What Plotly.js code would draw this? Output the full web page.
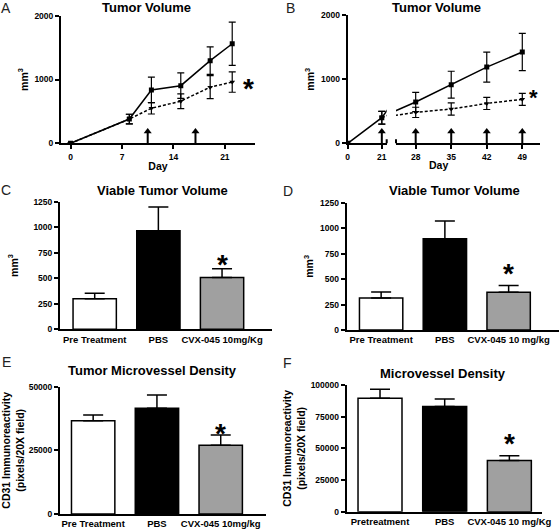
<!DOCTYPE html>
<html><head><meta charset="utf-8">
<script src="https://cdn.plot.ly/plotly-3.0.1.min.js"></script>
<style>html,body{margin:0;padding:0;background:#fff}#chart{width:560px;height:529px}</style>
</head><body><div id="chart"></div>
<script>
// ---------- Panel A : Tumor Volume ----------
const daysA = [0, 8, 11, 15, 19, 22];
const pbsA = [0, 380, 836, 903, 1295, 1560];
const pbsAerr = [0, 75, 200, 200, 215, 340];
const cvxA = [0, 380, 549, 660, 880, 960];
const cvxAerr = [0, 75, 90, 115, 180, 160];
const doseDaysA = [10.5, 17];
const ticksA = [0, 7, 14, 21];
// ---------- Panel B : Tumor Volume ----------
const daysB = [0, 21, 28, 35, 42, 49];
const pbsB = [0, 400, 645, 915, 1190, 1425];
const pbsBerr = [0, 100, 150, 210, 235, 290];
const daysBcvx = [21, 28, 35, 42, 49];
const cvxB = [400, 483, 535, 623, 686];
const cvxBerr = [100, 80, 95, 95, 95];
const doseDaysB1 = [21];
const doseDaysB2 = [28, 35, 42, 49];
const ticksB1 = [0, 21];
const ticksB2 = [28, 35, 42, 49];
// ---------- Panel C ----------
const groupsC = ['Pre Treatment', 'PBS', 'CVX-045 10mg/Kg'];
const valC = [300, 965, 508];
const errC = [52, 233, 84];
// ---------- Panel D ----------
const groupsD = ['Pre Treatment', 'PBS', 'CVX-045 10 mg/kg'];
const valD = [315, 895, 370];
const errD = [57, 175, 68];
// ---------- Panel E ----------
const groupsE = ['Pre Treatment', 'PBS', 'CVX-045 10mg/kg'];
const valE = [36600, 41500, 27000];
const errE = [2300, 5200, 4000];
// ---------- Panel F ----------
const groupsF = ['Pretreatment', 'PBS', 'CVX-045 10 mg/Kg'];
const valF = [89500, 83000, 40500];
const errF = [7100, 6000, 3700];

const barColors = ['#ffffff', '#000000', '#a0a0a0'];
const FAM = 'Liberation Sans, Arial, Helvetica, sans-serif';
const W = 560, H = 529;
const px = v => v / W;
const py = v => 1 - v / H;
const arrowTip = 225;

function lineTrace(x, y, err, xa, ya, dashed) {
  return {
    type: 'scatter', mode: 'lines+markers', x: x, y: y, xaxis: xa, yaxis: ya,
    line: {color: '#000', width: 1.5, dash: dashed ? '3px,2px' : 'solid'},
    marker: {color: '#000', size: 5, symbol: dashed ? 'triangle-down' : 'square'},
    error_y: {type: 'data', array: err, visible: true, color: '#000', thickness: 1.2, width: 3.5},
    showlegend: false, hoverinfo: 'skip'
  };
}
function arrowTraces(days, xa, ya) {
  const xs = [], ys = [];
  days.forEach(d => { xs.push(d, d, null); ys.push(0, arrowTip - 40, null); });
  return [
    {type: 'scatter', mode: 'lines', x: xs, y: ys, xaxis: xa, yaxis: ya,
     line: {color: '#000', width: 2}, showlegend: false, hoverinfo: 'skip'},
    {type: 'scatter', mode: 'markers', x: days, y: days.map(() => arrowTip - 40), xaxis: xa, yaxis: ya,
     marker: {symbol: 'triangle-up', size: 7, color: '#000'}, showlegend: false, hoverinfo: 'skip'}
  ];
}
function barTrace(cats, vals, errs, xa, ya) {
  return {
    type: 'bar', x: cats, y: vals, xaxis: xa, yaxis: ya, width: 0.68,
    marker: {color: barColors, line: {color: '#000', width: 1.5}},
    error_y: {type: 'data', symmetric: false, array: errs, arrayminus: errs.map(() => 0),
              visible: true, color: '#000', thickness: 1.5, width: 10},
    showlegend: false, hoverinfo: 'skip'
  };
}

const traces = [].concat(
  arrowTraces(doseDaysA, 'x', 'y'),
  arrowTraces(doseDaysB1, 'x2', 'y2'),
  arrowTraces(doseDaysB2, 'x3', 'y2'),
  [
    lineTrace(daysA, cvxA, cvxAerr, 'x', 'y', true),
    lineTrace(daysA, pbsA, pbsAerr, 'x', 'y', false),
    lineTrace(daysBcvx, cvxB, cvxBerr, 'x2', 'y2', true),
    lineTrace(daysB, pbsB, pbsBerr, 'x2', 'y2', false),
    lineTrace(daysBcvx, cvxB, cvxBerr, 'x3', 'y2', true),
    lineTrace(daysB, pbsB, pbsBerr, 'x3', 'y2', false),
    barTrace(groupsC, valC, errC, 'x4', 'y3'),
    barTrace(groupsD, valD, errD, 'x5', 'y4'),
    barTrace(groupsE, valE, errE, 'x6', 'y5'),
    barTrace(groupsF, valF, errF, 'x7', 'y6')
  ]
);

const tickF = {family: FAM, size: 8.5, color: '#000', weight: 'bold'};
const catF = {family: FAM, size: 9.5, color: '#000', weight: 'bold'};
const ttlF = {family: FAM, size: 10.5, color: '#000', weight: 'bold'};

function xax(domain, range, extra) {
  return Object.assign({domain: domain, range: range, showline: true, linewidth: 2, linecolor: '#000',
    showgrid: false, zeroline: false, ticks: 'outside', ticklen: 4, tickwidth: 2, tickcolor: '#000',
    tickfont: tickF, fixedrange: true}, extra);
}
function yax(domain, range, tickvals, extra) {
  return Object.assign({domain: domain, range: range, tickvals: tickvals, tickformat: 'd',
    showline: true, linewidth: 2, linecolor: '#000', showgrid: false, zeroline: false,
    ticks: 'outside', ticklen: 4, tickwidth: 2, tickcolor: '#000', tickfont: tickF, fixedrange: true}, extra);
}
function catax(domain, range, anchor) {
  return {domain: domain, range: range, anchor: anchor, type: 'category', showline: true, linewidth: 2,
    linecolor: '#000', showgrid: false, zeroline: false, ticks: '', tickfont: catF, fixedrange: true};
}

const layout = {
  width: W, height: H, margin: {l: 0, r: 0, t: 0, b: 0},
  paper_bgcolor: '#fff', plot_bgcolor: 'rgba(0,0,0,0)', showlegend: false,
  font: {family: FAM, color: '#000'},
  // A
  xaxis: xax([px(61), px(255)], [-1.3, 25.1], {anchor: 'y', tickvals: ticksA,
    title: {text: 'Day', font: ttlF, standoff: 2}}),
  yaxis: yax([py(143.3), py(15.7)], [0, 2000], [0, 1000, 2000], {anchor: 'x',
    title: {text: 'mm<sup>3</sup>', font: ttlF, standoff: 4}}),
  // B (broken x axis)
  xaxis2: xax([px(347.7), px(386.7)], [0, 24], {anchor: 'y2', tickvals: ticksB1}),
  xaxis3: xax([px(396), px(540)], [24.12, 52.49], {anchor: 'y2', tickvals: ticksB2}),
  yaxis2: yax([py(143.3), py(15.2)], [0, 2000], [0, 1000, 2000], {anchor: 'x2',
    title: {text: 'mm<sup>3</sup>', font: ttlF, standoff: 4}}),
  // C
  xaxis4: catax([px(60), px(271.7)], [-0.545, 2.78], 'y3'),
  yaxis3: yax([py(329.3), py(201.7)], [0, 1250], [0, 250, 500, 750, 1000, 1250], {anchor: 'x4',
    title: {text: 'mm<sup>3</sup>', font: ttlF, standoff: 13}}),
  // D
  xaxis5: catax([px(346.7), px(559)], [-0.54, 2.79], 'y4'),
  yaxis4: yax([py(330), py(202.7)], [0, 1250], [0, 250, 500, 750, 1000, 1250], {anchor: 'x5',
    title: {text: 'mm<sup>3</sup>', font: ttlF, standoff: 4}}),
  // E
  xaxis6: catax([px(60), px(266)], [-0.52, 2.71], 'y5'),
  yaxis5: yax([py(514), py(386.7)], [0, 50000], [0, 25000, 50000], {anchor: 'x6',
    title: {text: 'CD31 Immunoreactivity<br>(pixels/20X field)', font: ttlF, standoff: 4}}),
  // F
  xaxis7: catax([px(346.7), px(541.7)], [-0.515, 2.5], 'y6'),
  yaxis6: yax([py(511.7), py(385)], [0, 100000], [0, 25000, 50000, 75000, 100000], {anchor: 'x7',
    title: {text: 'CD31 Immunoreactivity<br>(pixels/20X field)', font: ttlF, standoff: 3}}),
  shapes: [
    {type: 'line', xref: 'x2 domain', x0: 1, x1: 1, yref: 'y2', ysizemode: 'pixel', yanchor: 0,
     y0: -4, y1: 4, line: {color: '#000', width: 2}},
    {type: 'line', xref: 'x3 domain', x0: 0, x1: 0, yref: 'y2', ysizemode: 'pixel', yanchor: 0,
     y0: -4, y1: 4, line: {color: '#000', width: 2}}
  ],
  annotations: []
};

const ann = layout.annotations;
// panel titles
const panelTitles = [
  ['Tumor Volume', 146.7, 7], ['Tumor Volume', 436.7, 7],
  ['Viable Tumor Volume', 162, 190], ['Viable Tumor Volume', 454, 190],
  ['Tumor Microvessel Density', 152, 370], ['Microvessel Density', 443, 373]
];
panelTitles.forEach(t => ann.push({xref: 'paper', yref: 'paper', x: px(t[1]), y: py(t[2]),
  xanchor: 'center', yanchor: 'middle', showarrow: false, text: t[0],
  font: {family: FAM, size: 13, color: '#000', weight: 'bold'}}));
// panel letters
const letters = [['A', 6, 8], ['B', 290, 8], ['C', 6, 190], ['D', 288, 191], ['E', 6, 362], ['F', 287, 363]];
letters.forEach(l => ann.push({xref: 'paper', yref: 'paper', x: px(l[1]), y: py(l[2]),
  xanchor: 'center', yanchor: 'middle', showarrow: false, text: l[0],
  font: {family: FAM, size: 14, color: '#222'}}));
// B Day label
ann.push({xref: 'paper', yref: 'paper', x: px(438), y: py(165), xanchor: 'center', yanchor: 'middle',
  showarrow: false, text: 'Day', font: ttlF});
// significance asterisks
const star = (xref, yref, x, y, size, xs, ys) => ann.push({xref: xref, yref: yref, x: x, y: y,
  xanchor: 'center', yanchor: 'middle', xshift: xs, yshift: ys, showarrow: false, text: '*',
  font: {family: FAM, size: size, color: '#000', weight: 'bold'}});
const nA = daysA.length - 1, nB = daysBcvx.length - 1;
star('x', 'y', daysA[nA], cvxA[nA], 28, 16, -6);
star('x3', 'y2', daysBcvx[nB], cvxB[nB], 22, 11, 2);
star('x4', 'y3', groupsC[2], valC[2] + errC[2], 28, 0, 4);
star('x5', 'y4', groupsD[2], valD[2] + errD[2], 28, 0, 12);
star('x6', 'y5', groupsE[2], valE[2] + errE[2], 28, 0, 2);
star('x7', 'y6', groupsF[2], valF[2] + errF[2], 28, 0, 12);

Plotly.newPlot('chart', traces, layout, {staticPlot: true, displayModeBar: false});
</script>
</body></html>
